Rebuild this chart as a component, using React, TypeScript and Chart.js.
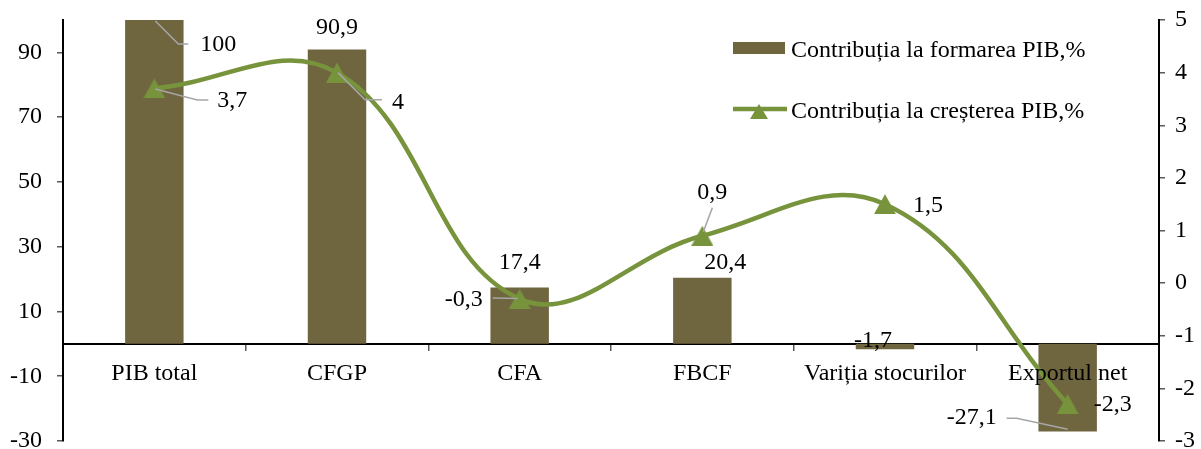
import React, { useEffect, useRef } from "react";
import { Chart, registerables } from "chart.js";

Chart.register(...registerables);

// ---- data ----
const CATEGORIES = ["PIB total", "CFGP", "CFA", "FBCF", "Variția stocurilor", "Exportul net"];
const SHARE_LABEL = "Contribuția la formarea PIB,%";
const GROWTH_LABEL = "Contribuția la creșterea PIB,%";
const SHARE_VALUES = [100, 90.9, 17.4, 20.4, -1.7, -27.1];
const GROWTH_VALUES = [3.7, 4, -0.3, 0.9, 1.5, -2.3];
const LEFT_TICKS = [-30, -10, 10, 30, 50, 70, 90];
const LEFT_MIN = -30;
const LEFT_MAX = 100;
const RIGHT_TICKS = [-3, -2, -1, 0, 1, 2, 3, 4, 5];

// ---- styles ----
const FONT = "'Liberation Serif', 'Times New Roman', serif";
const FONT_SIZE = 24;
const BAR_COLOR = "#6F6640";
const LINE_COLOR = "#77933C";
const LEADER_COLOR = "#A6A6A6";

type LabelPos = { dx: number; dy: number; align: CanvasTextAlign; leader?: number[][] };

const BAR_LABEL_POS: LabelPos[] = [
  { dx: 46, dy: 25, align: "left", leader: [[1, 1], [24, 24], [34, 24]] },
  { dx: 0, dy: -22, align: "center" },
  { dx: 0, dy: -25, align: "center" },
  { dx: 23, dy: -15, align: "center" },
  { dx: -12, dy: -9, align: "center" },
  { dx: -71, dy: -14, align: "right", leader: [[-61, -13.4], [-51, -13.4], [0, -2.4]] },
];

const LINE_LABEL_POS: LabelPos[] = [
  { dx: 63, dy: 12.6, align: "left", leader: [[1, 0.6], [43, 11.6], [54, 11.6]] },
  { dx: 55, dy: 30, align: "left", leader: [[1, 0], [28, 27], [45, 27]] },
  { dx: -37, dy: 1, align: "right", leader: [[-27, -1], [-2, -0.5]] },
  { dx: 10, dy: -43, align: "center", leader: [[1, -4], [10, -28]] },
  { dx: 28, dy: 2, align: "left" },
  { dx: 26, dy: 1, align: "left" },
];

const fmt = (v: number) => String(v).replace(".", ",");

function makeTriangle(w: number, h: number, color: string) {
  const c = document.createElement("canvas");
  c.width = w;
  c.height = h;
  const g = c.getContext("2d")!;
  g.fillStyle = color;
  g.beginPath();
  g.moveTo(w / 2, 0);
  g.lineTo(w, h);
  g.lineTo(0, h);
  g.closePath();
  g.fill();
  return c;
}

const labelsPlugin = {
  id: "valueLabels",
  afterDatasetsDraw(chart: any) {
    const ctx = chart.ctx;
    ctx.save();
    ctx.font = `${FONT_SIZE}px ${FONT}`;
    ctx.fillStyle = "#000";
    ctx.textBaseline = "middle";
    chart.data.datasets.forEach((ds: any, di: number) => {
      const meta = chart.getDatasetMeta(di);
      const posList = ds.type === "line" ? LINE_LABEL_POS : BAR_LABEL_POS;
      meta.data.forEach((el: any, i: number) => {
        const p = posList[i];
        const x = el.x;
        const y = el.y;
        if (p.leader) {
          ctx.strokeStyle = LEADER_COLOR;
          ctx.lineWidth = 1.5;
          ctx.beginPath();
          p.leader.forEach((pt, k) => {
            if (k === 0) ctx.moveTo(x + pt[0], y + pt[1]);
            else ctx.lineTo(x + pt[0], y + pt[1]);
          });
          ctx.stroke();
        }
        ctx.textAlign = p.align;
        ctx.fillStyle = "#000";
        ctx.fillText(fmt(ds.data[i]), x + p.dx, y + p.dy);
      });
    });
    ctx.restore();
  },
};

const legendPlugin = {
  id: "customLegend",
  afterDraw(chart: any) {
    const ctx = chart.ctx;
    const ds = chart.data.datasets;
    const bar = ds.find((d: any) => d.type === "bar");
    const line = ds.find((d: any) => d.type === "line");
    ctx.save();
    ctx.font = `${FONT_SIZE}px ${FONT}`;
    ctx.textBaseline = "middle";
    ctx.textAlign = "left";
    // bar entry
    ctx.fillStyle = bar.backgroundColor;
    ctx.fillRect(733, 42, 52, 12);
    ctx.fillStyle = "#000";
    ctx.fillText(bar.label, 791, 51);
    // line entry
    ctx.strokeStyle = line.borderColor;
    ctx.lineWidth = 4.5;
    ctx.beginPath();
    ctx.moveTo(733, 109);
    ctx.lineTo(787, 109);
    ctx.stroke();
    ctx.fillStyle = LINE_COLOR;
    ctx.beginPath();
    ctx.moveTo(759, 104);
    ctx.lineTo(768, 119);
    ctx.lineTo(750, 119);
    ctx.closePath();
    ctx.fill();
    ctx.fillStyle = "#000";
    ctx.fillText(line.label, 791, 111.5);
    ctx.restore();
  },
};

function zeroPad(scale: any) {
  scale.paddingTop = 0;
  scale.paddingBottom = 0;
  scale.paddingLeft = 0;
  scale.paddingRight = 0;
}

export default function App() {
  const ref = useRef<HTMLCanvasElement | null>(null);
  useEffect(() => {
    if (!ref.current) return;
    const tri = makeTriangle(22, 20, LINE_COLOR);
    const chart = new Chart(ref.current, {
      type: "bar",
      data: {
        labels: CATEGORIES,
        datasets: [
          {
            type: "line",
            label: GROWTH_LABEL,
            data: GROWTH_VALUES,
            yAxisID: "y1",
            borderColor: LINE_COLOR,
            borderWidth: 4.5,
            tension: 0.4,
            pointStyle: tri,
            pointRadius: 11,
            pointBackgroundColor: LINE_COLOR,
            pointBorderColor: LINE_COLOR,
            pointBorderWidth: 0,
            order: 0,
          } as any,
          {
            type: "bar",
            label: SHARE_LABEL,
            data: SHARE_VALUES,
            yAxisID: "y",
            backgroundColor: BAR_COLOR,
            barPercentage: 0.32,
            categoryPercentage: 1,
            order: 1,
          } as any,
        ],
      },
      options: {
        animation: false,
        responsive: false,
        devicePixelRatio: 1,
        layout: { autoPadding: false, padding: { top: 20, bottom: 8, left: 0, right: 0 } },
        plugins: { legend: { display: false }, tooltip: { enabled: false } },
        font: { family: FONT, size: FONT_SIZE },
        scales: {
          x: {
            type: "category",
            position: { y: 0 } as any,
            offset: true,
            grid: {
              offset: true,
              drawOnChartArea: false,
              drawTicks: true,
              tickLength: 6,
              color: "#595959",
              lineWidth: 1.5,
            },
            border: { display: true, color: "#000", width: 2 },
            ticks: {
              font: { family: FONT, size: FONT_SIZE },
              color: "#000",
              padding: 9,
              maxRotation: 0,
              autoSkip: false,
              z: 1,
            },
            afterFit: zeroPad,
          } as any,
          y: {
            type: "linear",
            position: "left",
            min: LEFT_MIN,
            max: LEFT_MAX,
            afterBuildTicks: (scale: any) => {
              scale.ticks = LEFT_TICKS.map((v) => ({ value: v }));
            },
            grid: {
              drawOnChartArea: false,
              drawTicks: true,
              tickLength: 6,
              color: "#595959",
              lineWidth: 1.5,
            },
            border: { display: true, color: "#000", width: 2 },
            ticks: {
              font: { family: FONT, size: FONT_SIZE },
              color: "#000",
              padding: 15,
            },
            afterFit: (scale: any) => {
              zeroPad(scale);
              scale.width = 63;
            },
          } as any,
          y1: {
            type: "linear",
            position: "right",
            min: -3,
            max: 5,
            afterBuildTicks: (scale: any) => {
              scale.ticks = RIGHT_TICKS.map((v) => ({ value: v }));
            },
            grid: {
              drawOnChartArea: false,
              drawTicks: true,
              tickLength: 6,
              color: "#595959",
              lineWidth: 1.5,
            },
            border: { display: true, color: "#000", width: 2 },
            ticks: {
              font: { family: FONT, size: FONT_SIZE },
              color: "#000",
              padding: 10,
            },
            afterFit: (scale: any) => {
              zeroPad(scale);
              scale.width = 42;
            },
          } as any,
        },
      } as any,
      plugins: [labelsPlugin, legendPlugin],
    });
    return () => chart.destroy();
  }, []);

  return (
    <div style={{ position: "absolute", left: 0, top: 0, width: 1201, height: 449, background: "#fff" }}>
      <canvas ref={ref} width={1201} height={449} style={{ display: "block" }} />
    </div>
  );
}
